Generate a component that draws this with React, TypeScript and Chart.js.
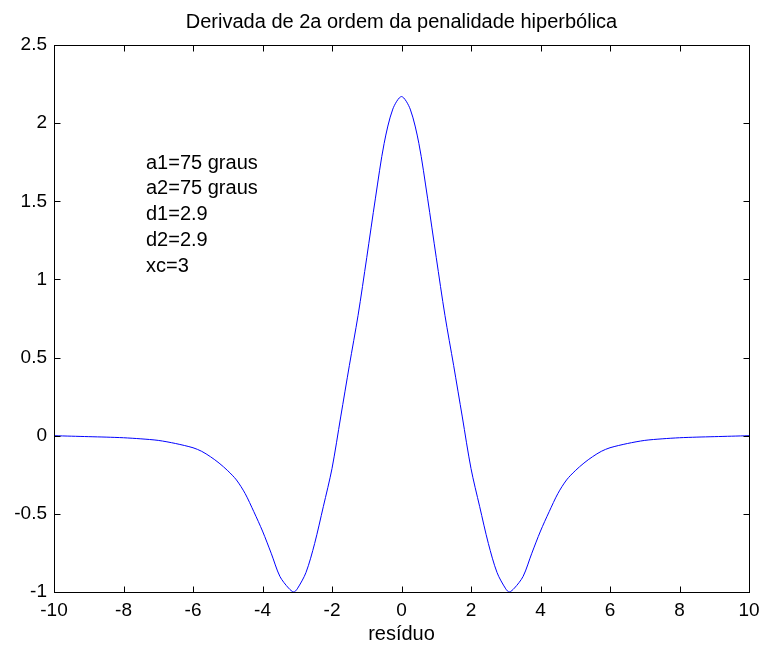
import React, { useEffect, useRef } from "react";
import { Chart, registerables } from "chart.js";

Chart.register(...registerables);

const TITLE = "Derivada de 2a ordem da penalidade hiperbólica";
const X_LABEL = "resíduo";
const NOTES = ["a1=75 graus", "a2=75 graus", "d1=2.9", "d2=2.9", "xc=3"];

const X_VALUES = [
  -10, -9.5, -9, -8.5, -8, -7.5, -7, -6.5, -6, -5.75, -5.5, -5.25, -5, -4.75, -4.5, -4.25,
  -4, -3.75, -3.5, -3.25, -3.1, -3, -2.75, -2.5, -2.25, -2, -1.75, -1.5, -1.25, -1, -0.75,
  -0.5, -0.25, 0, 0.25, 0.5, 0.75, 1, 1.25, 1.5, 1.75, 2, 2.25, 2.5, 2.75, 3, 3.1, 3.25,
  3.5, 3.75, 4, 4.25, 4.5, 4.75, 5, 5.25, 5.5, 5.75, 6, 6.5, 7, 7.5, 8, 8.5, 9, 9.5, 10,
];
const Y_VALUES = [
  0.0, -0.003, -0.006, -0.009, -0.013, -0.02, -0.03, -0.05, -0.077, -0.1, -0.134, -0.175,
  -0.224, -0.283, -0.37, -0.486, -0.61, -0.752, -0.9, -0.975, -1.0, -0.98, -0.876, -0.69,
  -0.454, -0.21, 0.12, 0.45, 0.77, 1.14, 1.52, 1.87, 2.09, 2.17, 2.09, 1.87, 1.52, 1.14,
  0.77, 0.45, 0.12, -0.21, -0.454, -0.69, -0.876, -0.98, -1.0, -0.975, -0.9, -0.752, -0.61,
  -0.486, -0.37, -0.283, -0.224, -0.175, -0.134, -0.1, -0.077, -0.05, -0.03, -0.02, -0.013,
  -0.009, -0.006, -0.003, 0.0,
];
const X_TICKS = [-10, -8, -6, -4, -2, 0, 2, 4, 6, 8, 10];
const Y_TICKS = [-1, -0.5, 0, 0.5, 1, 1.5, 2, 2.5];

const FONT = "'Liberation Sans', Arial, Helvetica, sans-serif";

const frame = {
  id: "matlabFrame",
  afterDraw(chart: any) {
    const { ctx, chartArea } = chart;
    const xs = chart.scales.x;
    const ys = chart.scales.y;
    const L = Math.round(chartArea.left) + 0.5;
    const R = Math.round(chartArea.right) + 0.5;
    const T = Math.round(chartArea.top) + 0.5;
    const B = Math.round(chartArea.bottom) + 0.5;
    ctx.save();
    ctx.strokeStyle = "#000";
    ctx.lineWidth = 1;
    ctx.strokeRect(L, T, R - L, B - T);
    const tl = 6;
    ctx.beginPath();
    for (const v of X_TICKS) {
      const p = Math.round(xs.getPixelForValue(v)) + 0.5;
      ctx.moveTo(p, B);
      ctx.lineTo(p, B - tl);
      ctx.moveTo(p, T);
      ctx.lineTo(p, T + tl);
    }
    for (const v of Y_TICKS) {
      const p = Math.round(ys.getPixelForValue(v)) + 0.5;
      ctx.moveTo(L, p);
      ctx.lineTo(L + tl, p);
      ctx.moveTo(R, p);
      ctx.lineTo(R - tl, p);
    }
    ctx.stroke();

    ctx.fillStyle = "#000";
    ctx.font = `20px ${FONT}`;
    ctx.textBaseline = "middle";
    ctx.textAlign = "center";
    const cx = (chartArea.left + chartArea.right) / 2;
    ctx.fillText(TITLE, cx, 22);
    ctx.fillText(X_LABEL, cx, 634);
    ctx.textAlign = "left";
    NOTES.forEach((t, i) => {
      ctx.fillText(t, 146, 163 + i * 25.8);
    });
    ctx.restore();
  },
};

export default function App() {
  const ref = useRef<HTMLCanvasElement | null>(null);
  useEffect(() => {
    if (!ref.current) return;
    const data = X_VALUES.map((x, i) => ({ x, y: Y_VALUES[i] }));
    const chart = new Chart(ref.current, {
      type: "line",
      data: {
        datasets: [
          {
            data,
            borderColor: "#0000ff",
            borderWidth: 1,
            pointRadius: 0,
            fill: false,
            tension: 0.3,
          },
        ],
      },
      options: {
        animation: false,
        responsive: false,
        devicePixelRatio: 1,
        layout: { padding: { top: 45, right: 14, left: 0, bottom: 0 } },
        plugins: { legend: { display: false }, title: { display: false }, tooltip: { enabled: false } },
        scales: {
          x: {
            type: "linear",
            min: -10,
            max: 10,
            afterFit: (s: any) => {
              s.height = 56;
              s.paddingLeft = 0;
              s.paddingRight = 0;
            },
            afterBuildTicks: (s: any) => {
              s.ticks = X_TICKS.map((v) => ({ value: v }));
            },
            ticks: {
              color: "#000",
              font: { size: 19, family: FONT },
              padding: 7,
              maxRotation: 0,
              callback: (v: any) => String(v),
            },
            grid: { display: false, drawTicks: false },
            border: { display: false },
          },
          y: {
            type: "linear",
            min: -1,
            max: 2.5,
            afterFit: (s: any) => {
              s.width = 54;
              s.paddingTop = 0;
              s.paddingBottom = 0;
            },
            afterBuildTicks: (s: any) => {
              s.ticks = Y_TICKS.map((v) => ({ value: v }));
            },
            ticks: {
              color: "#000",
              font: { size: 19, family: FONT },
              padding: 7,
              callback: (v: any) => String(v),
            },
            grid: { display: false, drawTicks: false },
            border: { display: false },
          },
        },
      },
      plugins: [frame],
    });
    return () => chart.destroy();
  }, []);
  return (
    <div style={{ position: "fixed", left: 0, top: 0, width: 763, height: 648, background: "#fff" }}>
      <canvas ref={ref} width={763} height={648} style={{ width: 763, height: 648 }} />
    </div>
  );
}
